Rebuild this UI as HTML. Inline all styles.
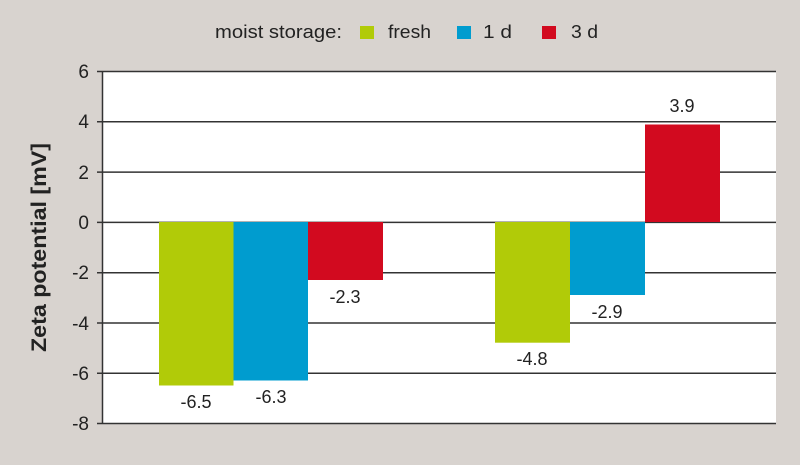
<!DOCTYPE html>
<html><head><meta charset="utf-8"><style>
body{margin:0;background:#d8d3cf;}
svg{display:block;font-family:"Liberation Sans",sans-serif;}
</style></head><body>
<svg width="800" height="465" viewBox="0 0 800 465">
<rect width="800" height="465" fill="#d8d3cf"/>
<rect x="102" y="71" width="674" height="352" fill="#fff"/>
<g font-size="18" fill="#222">
<text x="215" y="38" textLength="127" lengthAdjust="spacingAndGlyphs">moist storage:</text>
<rect x="360" y="26" width="14" height="13" fill="#b1cb08"/>
<text x="388" y="38" textLength="43" lengthAdjust="spacingAndGlyphs">fresh</text>
<rect x="457" y="26" width="14" height="13" fill="#009ccf"/>
<text x="483" y="38" textLength="29" lengthAdjust="spacingAndGlyphs">1 d</text>
<rect x="542" y="26" width="14" height="13" fill="#d20a1f"/>
<text x="571" y="38" textLength="27" lengthAdjust="spacingAndGlyphs">3 d</text>
</g>
<g stroke="#333" stroke-width="1.5">
<line x1="97" y1="71.5" x2="776" y2="71.5"/>
<line x1="97" y1="121.8" x2="776" y2="121.8"/>
<line x1="97" y1="172.1" x2="776" y2="172.1"/>
<line x1="97" y1="222.4" x2="776" y2="222.4"/>
<line x1="97" y1="272.7" x2="776" y2="272.7"/>
<line x1="97" y1="323" x2="776" y2="323"/>
<line x1="97" y1="373.3" x2="776" y2="373.3"/>
<line x1="97" y1="423.5" x2="776" y2="423.5"/>
<line x1="102.5" y1="71" x2="102.5" y2="424"/>
</g>
<g>
<rect x="159" y="222" width="74.5" height="163.5" fill="#b1cb08"/>
<rect x="233.5" y="222" width="74.5" height="158.5" fill="#009ccf"/>
<rect x="308" y="222" width="75" height="58" fill="#d20a1f"/>
<rect x="495" y="222" width="75" height="120.7" fill="#b1cb08"/>
<rect x="570" y="222" width="75" height="73" fill="#009ccf"/>
<rect x="645" y="124.5" width="75" height="97.5" fill="#d20a1f"/>
</g>
<g font-size="18" fill="#222" text-anchor="middle">
<text x="196" y="408">-6.5</text>
<text x="271" y="403">-6.3</text>
<text x="345" y="303">-2.3</text>
<text x="532" y="365">-4.8</text>
<text x="607" y="318">-2.9</text>
<text x="682" y="112">3.9</text>
</g>
<g font-size="19" fill="#222" text-anchor="end">
<text x="89" y="78">6</text>
<text x="89" y="128">4</text>
<text x="89" y="179">2</text>
<text x="89" y="229">0</text>
<text x="89" y="279">-2</text>
<text x="89" y="330">-4</text>
<text x="89" y="380">-6</text>
<text x="89" y="430">-8</text>
</g>
<text transform="translate(46,247.5) rotate(-90)" text-anchor="middle" font-size="21" font-weight="bold" fill="#222" textLength="209" lengthAdjust="spacingAndGlyphs">Zeta potential [mV]</text>
</svg>
</body></html>
